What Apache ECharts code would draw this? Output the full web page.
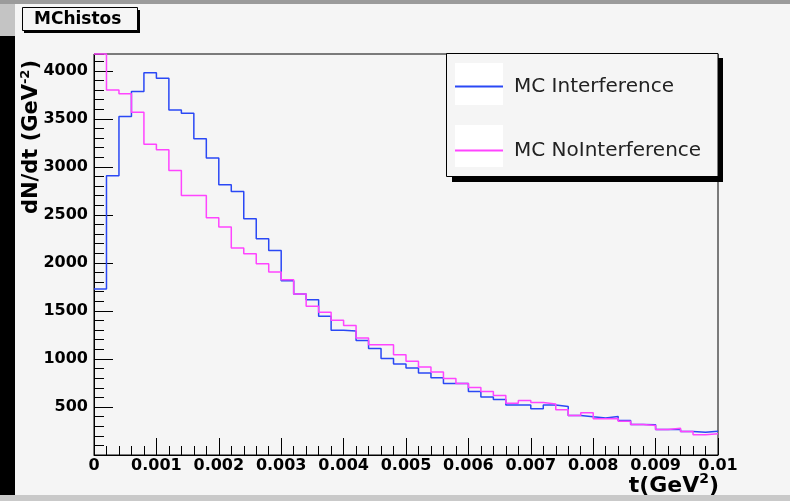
<!DOCTYPE html>
<html>
<head>
<meta charset="utf-8">
<script src="https://cdn.jsdelivr.net/npm/echarts@6/dist/echarts.min.js"></script>
<style>
  html, body { margin: 0; padding: 0; background: #f5f5f5; }
  #chart { width: 790px; height: 501px; }
</style>
</head>
<body>
<div id="chart"></div>
<script>
// histogram binning: 50 bins on t = 0 .. 0.01 GeV^2
var binWidth = 0.0002
var nBins = 50

// dN/dt per bin
var interference = [1728, 2907, 3524, 3784, 3981, 3923, 3593, 3559, 3292, 3091,
  2815, 2744, 2460, 2252, 2130, 1815, 1676, 1617, 1444, 1298,
  1290, 1191, 1108, 1004, 948, 907, 855, 803, 744, 744,
  660, 605, 577, 520, 520, 482, 520, 505, 412, 398,
  385, 400, 358, 317, 314, 265, 265, 244, 237, 248]

var noInterference = [4175, 3801, 3760, 3569, 3236, 3177, 2962, 2702, 2702, 2470,
  2373, 2155, 2096, 1992, 1905, 1825, 1676, 1548, 1485, 1402,
  1347, 1219, 1149, 1149, 1045, 976, 917, 865, 796, 744,
  702, 660, 619, 538, 567, 546, 532, 470, 412, 439,
  378, 380, 352, 317, 307, 265, 279, 244, 210, 220]

var seriesNames = ['MC Interference', 'MC NoInterference']

var font = 'DejaVu Sans'

// bin low edges + closing point, drawn as a step line
function toSteps (vals) {
  var pts = vals.map(function (v, i) { return [i * binWidth, v] })
  pts.push([nBins * binWidth, vals[vals.length - 1]])
  return pts
}

var chart = echarts.init(document.getElementById('chart'))

var option = {
  backgroundColor: '#f5f5f5',
  animation: false,
  grid: {
    left: 94,
    right: 72,
    top: 54,
    bottom: 46,
    show: true,
    borderColor: '#000',
    borderWidth: 1,
    backgroundColor: 'transparent'
  },
  legend: {
    orient: 'vertical',
    left: 455,
    top: 64,
    padding: 0,
    icon: 'rect',
    itemWidth: 48,
    itemHeight: 2,
    itemGap: 19,
    z: 20,
    textStyle: { fontFamily: font, fontSize: 20, color: '#222', lineHeight: 42, padding: [3, 0, 0, 6] },
    data: seriesNames
  },
  xAxis: [{
    type: 'value',
    min: 0,
    max: 0.01,
    interval: 0.001,
    axisLine: { show: true, lineStyle: { color: '#000', width: 1 } },
    axisTick: { show: true, inside: true, length: 17, lineStyle: { color: '#000' } },
    minorTick: { show: true, splitNumber: 5, length: 9, lineStyle: { color: '#000' } },
    splitLine: { show: false },
    axisLabel: { fontFamily: font, fontWeight: 'bold', fontSize: 16, color: '#000', margin: 3 }
  }],
  yAxis: [{
    type: 'value',
    min: 0,
    max: 4175,
    interval: 500,
    axisLine: { show: true, lineStyle: { color: '#000', width: 1 } },
    axisTick: { show: true, inside: true, length: 19, lineStyle: { color: '#000' } },
    splitLine: { show: false },
    axisLabel: {
      fontFamily: font, fontWeight: 'bold', fontSize: 16, color: '#000', margin: 6,
      showMaxLabel: false,
      formatter: function (v) { return v === 0 ? '' : String(v) }
    }
  }, {
    // minor ticks every 100
    type: 'value',
    position: 'left',
    min: 0,
    max: 4175,
    interval: 100,
    axisLine: { show: false },
    axisTick: { show: true, inside: true, length: 10, lineStyle: { color: '#000' } },
    splitLine: { show: false },
    axisLabel: { show: false }
  }],
  series: [{
    name: seriesNames[0],
    type: 'line',
    step: 'end',
    symbol: 'none',
    clip: false,
    color: '#2a48f5',
    lineStyle: { width: 1.5, color: '#2a48f5' },
    data: toSteps(interference)
  }, {
    name: seriesNames[1],
    type: 'line',
    step: 'end',
    symbol: 'none',
    clip: false,
    color: '#ff44ff',
    lineStyle: { width: 1.5, color: '#ff44ff' },
    data: toSteps(noInterference)
  }],
  graphic: [
    // window edges
    { type: 'rect', z: 1, shape: { x: 0, y: 0, width: 790, height: 4 }, style: { fill: '#9b9b9b' } },
    { type: 'rect', z: 1, shape: { x: 0, y: 4, width: 15, height: 32 }, style: { fill: '#c4c4c4' } },
    { type: 'rect', z: 1, shape: { x: 0, y: 36, width: 15, height: 459 }, style: { fill: '#000' } },
    { type: 'rect', z: 1, shape: { x: 0, y: 495, width: 790, height: 6 }, style: { fill: '#c9c9c9' } },
    // title box
    { type: 'rect', z: 10, shape: { x: 24, y: 10, width: 116, height: 23 }, style: { fill: '#000' } },
    { type: 'rect', z: 11, shape: { x: 22.5, y: 7.5, width: 115, height: 23 }, style: { fill: '#f5f5f5', stroke: '#000', lineWidth: 1 } },
    { type: 'text', z: 12, x: 34, y: 19.5, style: { text: 'MChistos', fontFamily: font, fontWeight: 'bold', fontSize: 17, fill: '#000', textVerticalAlign: 'middle' } },
    // legend box with shadow
    { type: 'rect', z: 10, shape: { x: 452, y: 58, width: 271, height: 124 }, style: { fill: '#000' } },
    { type: 'rect', z: 11, shape: { x: 446.5, y: 53.5, width: 271.5, height: 123 }, style: { fill: '#f5f5f5', stroke: '#000', lineWidth: 1 } },
    { type: 'rect', z: 12, shape: { x: 455, y: 63, width: 48, height: 42 }, style: { fill: '#fff' } },
    { type: 'rect', z: 12, shape: { x: 455, y: 125, width: 48, height: 42 }, style: { fill: '#fff' } },
    // axis titles
    {
      type: 'text', z: 12, x: 32, y: 137, rotation: Math.PI / 2,
      style: {
        text: '{a|dN/dt (GeV}{s|-2}{a|)}',
        textAlign: 'center', textVerticalAlign: 'middle',
        rich: {
          a: { fontFamily: font, fontWeight: 'bold', fontSize: 21, fill: '#000', lineHeight: 26 },
          s: { fontFamily: font, fontWeight: 'bold', fontSize: 13, fill: '#000', verticalAlign: 'top', lineHeight: 26 }
        }
      }
    },
    {
      type: 'text', z: 12, x: 719, y: 486,
      style: {
        text: '{a|t(GeV}{s|2}{a|)}',
        textAlign: 'right', textVerticalAlign: 'middle',
        rich: {
          a: { fontFamily: font, fontWeight: 'bold', fontSize: 22, fill: '#000', lineHeight: 28 },
          s: { fontFamily: font, fontWeight: 'bold', fontSize: 14, fill: '#000', verticalAlign: 'top', lineHeight: 28 }
        }
      }
    }
  ]
}

chart.setOption(option)
window.onresize = chart.resize
</script>
</body>
</html>
